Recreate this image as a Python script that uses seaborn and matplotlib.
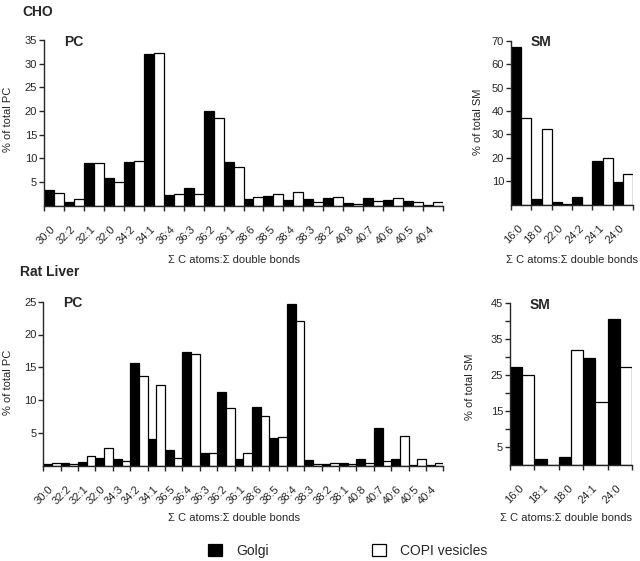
import matplotlib
matplotlib.use("Agg")
import matplotlib.pyplot as plt
import seaborn as sns
import pandas as pd
import numpy as np

sns.set_style("ticks")
plt.rcParams['font.family'] = ['Liberation Sans', 'DejaVu Sans']

series = ['Golgi', 'COPI vesicles']

cho_pc_cats = ['30:0', '32:2', '32:1', '32:0', '34:2', '34:1', '36:4', '36:3', '36:2', '36:1',
               '38:6', '38:5', '38:4', '38:3', '38:2', '40:8', '40:7', '40:6', '40:5', '40:4']
cho_pc_golgi = [3.2, 0.7, 9.0, 5.8, 9.3, 32.0, 2.2, 3.7, 20.0, 9.2,
                1.3, 2.0, 1.1, 1.3, 1.5, 0.5, 1.5, 1.2, 0.95, 0.2]
cho_pc_copi = [2.6, 1.3, 9.0, 5.0, 9.5, 32.3, 2.5, 2.5, 18.4, 8.2,
               1.9, 2.4, 2.75, 0.8, 1.8, 0.4, 0.95, 1.5, 0.75, 0.75]

cho_sm_cats = ['16:0', '18:0', '22:0', '24:2', '24:1', '24:0']
cho_sm_golgi = [67.5, 2.4, 1.0, 3.5, 18.7, 9.6]
cho_sm_copi = [37.0, 32.3, 0.3, 0.0, 19.8, 13.0]

rat_pc_cats = ['30:0', '32:2', '32:1', '32:0', '34:3', '34:2', '34:1', '36:5', '36:4', '36:3',
               '36:2', '36:1', '38:6', '38:5', '38:4', '38:3', '38:2', '38:1', '40:8', '40:7',
               '40:6', '40:5', '40:4']
rat_pc_golgi = [0.25, 0.35, 0.6, 1.1, 1.0, 15.7, 4.1, 2.4, 17.4, 1.9,
                11.3, 1.0, 9.0, 4.2, 24.6, 0.8, 0.2, 0.35, 1.0, 5.8,
                1.0, 0.1, 0.1]
rat_pc_copi = [0.45, 0.2, 1.5, 2.75, 0.7, 13.6, 12.3, 1.1, 17.0, 1.9,
               8.8, 1.9, 7.6, 4.4, 22.1, 0.25, 0.45, 0.2, 0.35, 0.7,
               4.5, 1.0, 0.35]

rat_sm_cats = ['16:0', '18:1', '18:0', '24:1', '24:0']
rat_sm_golgi = [27.3, 1.7, 2.2, 29.7, 40.5]
rat_sm_copi = [25.0, 0.0, 32.0, 17.6, 27.1]

W, H = 640, 561
fig = plt.figure(figsize=(W / 100, H / 100), dpi=100)


def ax_px(l, t, r, b):
    return fig.add_axes([l / W, 1 - b / H, (r - l) / W, (b - t) / H])


def panel(ax, cats, golgi, copi, ymax, yticks, ylabel_minor=None, title=''):
    df = pd.DataFrame({
        'cat': cats * 2,
        'val': list(golgi) + list(copi),
        'series': [series[0]] * len(cats) + [series[1]] * len(cats),
    })
    sns.barplot(data=df, x='cat', y='val', hue='series', order=cats, hue_order=series,
                palette={series[0]: 'black', series[1]: 'white'}, width=1.0,
                edgecolor='black', linewidth=0.9, errorbar=None, legend=False, ax=ax)
    n = len(cats)
    ax.set_xlim(-0.5, n - 0.5)
    ax.set_ylim(0, ymax)
    ax.set_yticks(yticks)
    ax.set_yticklabels([str(v) for v in yticks], fontsize=8)
    if ylabel_minor is not None:
        ax.set_yticks(ylabel_minor, minor=True)
    ax.set_xticks(np.arange(n))
    ax.set_xticklabels(cats, fontsize=8)
    ax.set_xticks(np.arange(n + 1) - 0.5, minor=True)
    ax.tick_params(axis='x', which='major', length=0, pad=16)
    ax.tick_params(axis='x', which='minor', length=3.5, width=1.0, direction='out')
    ax.tick_params(axis='y', which='both', length=3.5, width=1.0, pad=1.5, direction='out')
    plt.setp(ax.get_xticklabels(), rotation=45, ha='right', va='center', rotation_mode='anchor')
    ax.set_xlabel('')
    ax.set_ylabel('')
    for s in ['top', 'right']:
        ax.spines[s].set_visible(False)
    for s in ['left', 'bottom']:
        ax.spines[s].set_linewidth(1.0)
    ax.text(0.05 if n > 10 else 0.16, 0.99, title, transform=ax.transAxes,
            fontsize=10, fontweight='bold', ha='left', va='center')
    ax.set_facecolor('none')


ax1 = ax_px(44, 40, 443, 205.5)
panel(ax1, cho_pc_cats, cho_pc_golgi, cho_pc_copi, 35, [5, 10, 15, 20, 25, 30, 35], title='PC')
ax2 = ax_px(511, 40.7, 633, 204.7)
panel(ax2, cho_sm_cats, cho_sm_golgi, cho_sm_copi, 70, [10, 20, 30, 40, 50, 60, 70], title='SM')
ax3 = ax_px(43.3, 301.7, 443.5, 465.7)
panel(ax3, rat_pc_cats, rat_pc_golgi, rat_pc_copi, 25, [5, 10, 15, 20, 25], title='PC')
ax4 = ax_px(510, 303.3, 632, 464.6)
panel(ax4, rat_sm_cats, rat_sm_golgi, rat_sm_copi, 45, [5, 15, 25, 35, 45],
      ylabel_minor=[10, 20, 30, 40], title='SM')


def ftext(x, y, s, **kw):
    fig.text(x / W, 1 - y / H, s, **kw)


ftext(22, 12, 'CHO', fontsize=10, fontweight='bold', ha='left', va='center')
ftext(20, 272, 'Rat Liver', fontsize=10, fontweight='bold', ha='left', va='center')

ftext(8.5, 119, '% of total PC', fontsize=8, rotation=90, ha='center', va='center')
ftext(8.5, 382, '% of total PC', fontsize=8, rotation=90, ha='center', va='center')
ftext(478, 122, '% of total SM', fontsize=8, rotation=90, ha='center', va='center')
ftext(470, 387, '% of total SM', fontsize=8, rotation=90, ha='center', va='center')

xl = '\u03a3 C atoms:\u03a3 double bonds'
ftext(234, 260, xl, fontsize=8, ha='center', va='center')
ftext(572, 260, xl, fontsize=8, ha='center', va='center')
ftext(234, 518, xl, fontsize=8, ha='center', va='center')
ftext(566, 518, xl, fontsize=8, ha='center', va='center')

from matplotlib.patches import Patch
handles = [Patch(facecolor='black', edgecolor='black', linewidth=0.9),
           Patch(facecolor='white', edgecolor='black', linewidth=0.9)]
fig.legend(handles, series, loc='center left', bbox_to_anchor=(208 / W, 1 - 551 / H),
           ncol=2, frameon=False, fontsize=10, handlelength=1.0, handleheight=1.0,
           handletextpad=1.0, columnspacing=7.45, borderpad=0, borderaxespad=0)

fig.savefig('out.png', dpi=100)
